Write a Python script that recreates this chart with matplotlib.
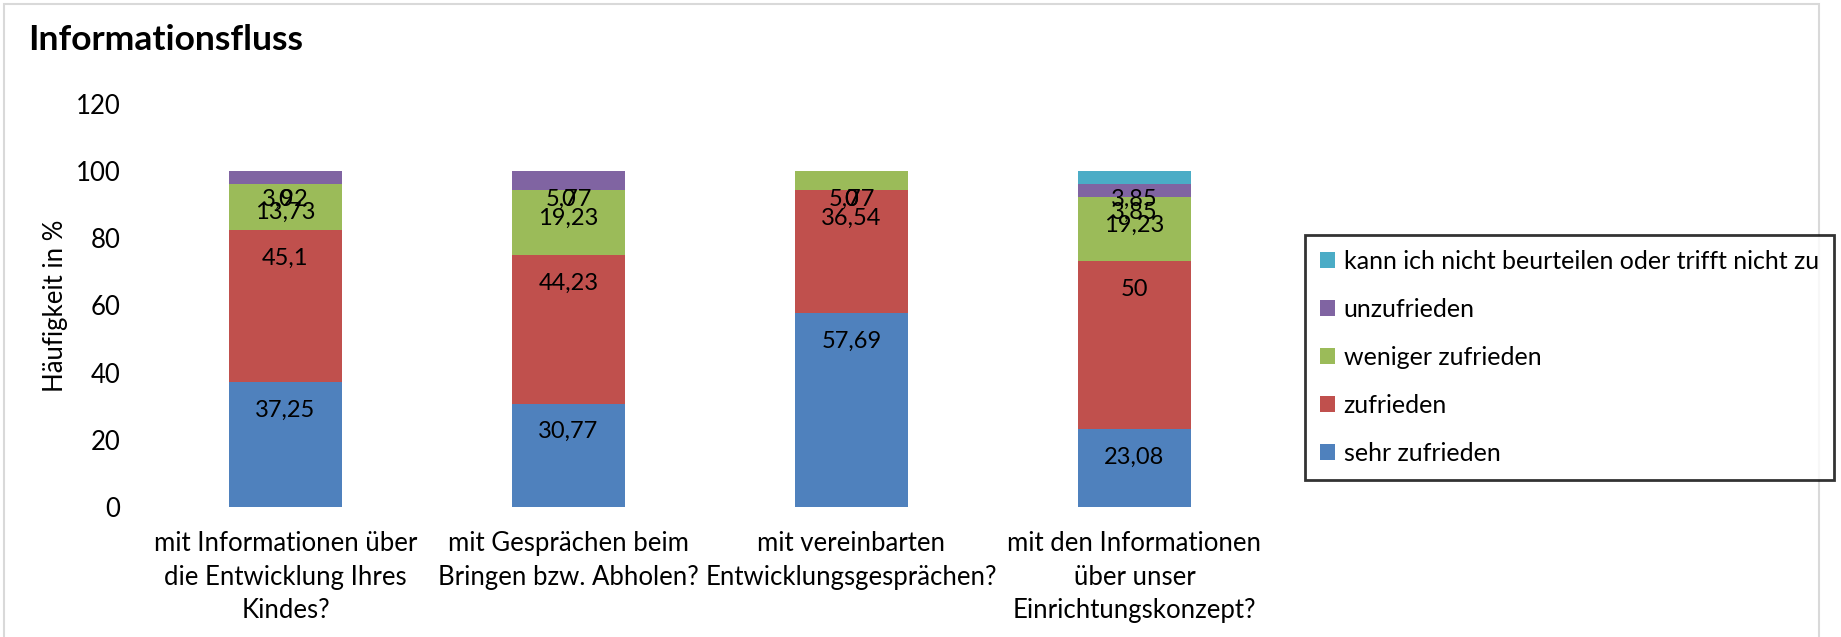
import matplotlib
matplotlib.use("Agg")
import matplotlib.pyplot as plt
from matplotlib.patches import Rectangle
import numpy as np

plt.rcParams['font.family'] = ['Lato', 'DejaVu Sans']

title = "Informationsfluss"
categories = [
    "mit Informationen über\ndie Entwicklung Ihres\nKindes?",
    "mit Gesprächen beim\nBringen bzw. Abholen?",
    "mit vereinbarten\nEntwicklungsgesprächen?",
    "mit den Informationen\nüber unser\nEinrichtungskonzept?",
]
series_names = ["sehr zufrieden", "zufrieden", "weniger zufrieden", "unzufrieden",
                "kann ich nicht beurteilen oder trifft nicht zu"]
sehr_zufrieden = [37.25, 30.77, 57.69, 23.08]
zufrieden = [45.1, 44.23, 36.54, 50]
weniger_zufrieden = [13.73, 19.23, 5.77, 19.23]
unzufrieden = [3.92, 5.77, 0, 3.85]
kann_nicht = [0, 0, 0, 3.85]
colors = ["#4F81BD", "#C0504D", "#9BBB59", "#8064A2", "#4BACC6"]
yticks = [0, 20, 40, 60, 80, 100, 120]
ylabel = "Häufigkeit in %"

series = [sehr_zufrieden, zufrieden, weniger_zufrieden, unzufrieden, kann_nicht]

W, H = 1841, 637
fig = plt.figure(figsize=(W / 100, H / 100), dpi=100)
fig.patches.append(Rectangle((4 / W, -0.01), 1815 / W, 1 - 4 / H + 0.01,
                             transform=fig.transFigure, fill=False,
                             edgecolor="#D9D9D9", linewidth=1.5))

ax = fig.add_axes([144 / W, 130 / H, 1132 / W, 403.3 / H])
x = np.arange(len(categories))
bottom = np.zeros(len(categories))
handles = []
fs_lab = 17
fs_tick = 18.5
for name, vals, c in zip(series_names, series, colors):
    vals = np.array(vals, dtype=float)
    b = ax.bar(x, vals, width=0.4, bottom=bottom, color=c, label=name,
               edgecolor="none")
    handles.append(b)
    tops = bottom + vals
    for xi, top, v in zip(x, tops, vals):
        txt = f"{v:g}".replace('.', ',')
        ax.text(xi, top - 8.4, txt, ha="center", va="center", fontsize=fs_lab,
                color="black")
    bottom = tops

ax.set_xlim(-0.5, 3.5)
ax.set_ylim(0, 120)
ax.set_yticks(yticks)
ax.set_yticklabels([str(t) for t in yticks], fontsize=fs_tick)
ax.set_xticks(x)
ax.set_xticklabels(categories, fontsize=fs_tick, linespacing=1.42)
ax.tick_params(axis="both", length=0)
ax.tick_params(axis="y", pad=17)
ax.tick_params(axis="x", pad=17.5)
for s in ax.spines.values():
    s.set_visible(False)
ax.set_ylabel(ylabel, fontsize=fs_tick)
ax.yaxis.set_label_coords(-(144 - 68) / 1132, 0.5)

fig.text(28 / W, 1 - 40 / H, title, fontsize=25.5, fontweight="bold",
         ha="left", va="center")

leg = fig.legend(handles[::-1], series_names[::-1],
                 loc="upper left", bbox_to_anchor=(1305 / W, 1 - 235 / H),
                 fontsize=18, frameon=True, fancybox=False,
                 edgecolor="black", labelspacing=1.0, handlelength=0.6,
                 handleheight=0.6, handletextpad=0.35, borderpad=0.6,
                 borderaxespad=0)
leg.get_frame().set_linewidth(2)

fig.savefig("out.png", dpi=100)
